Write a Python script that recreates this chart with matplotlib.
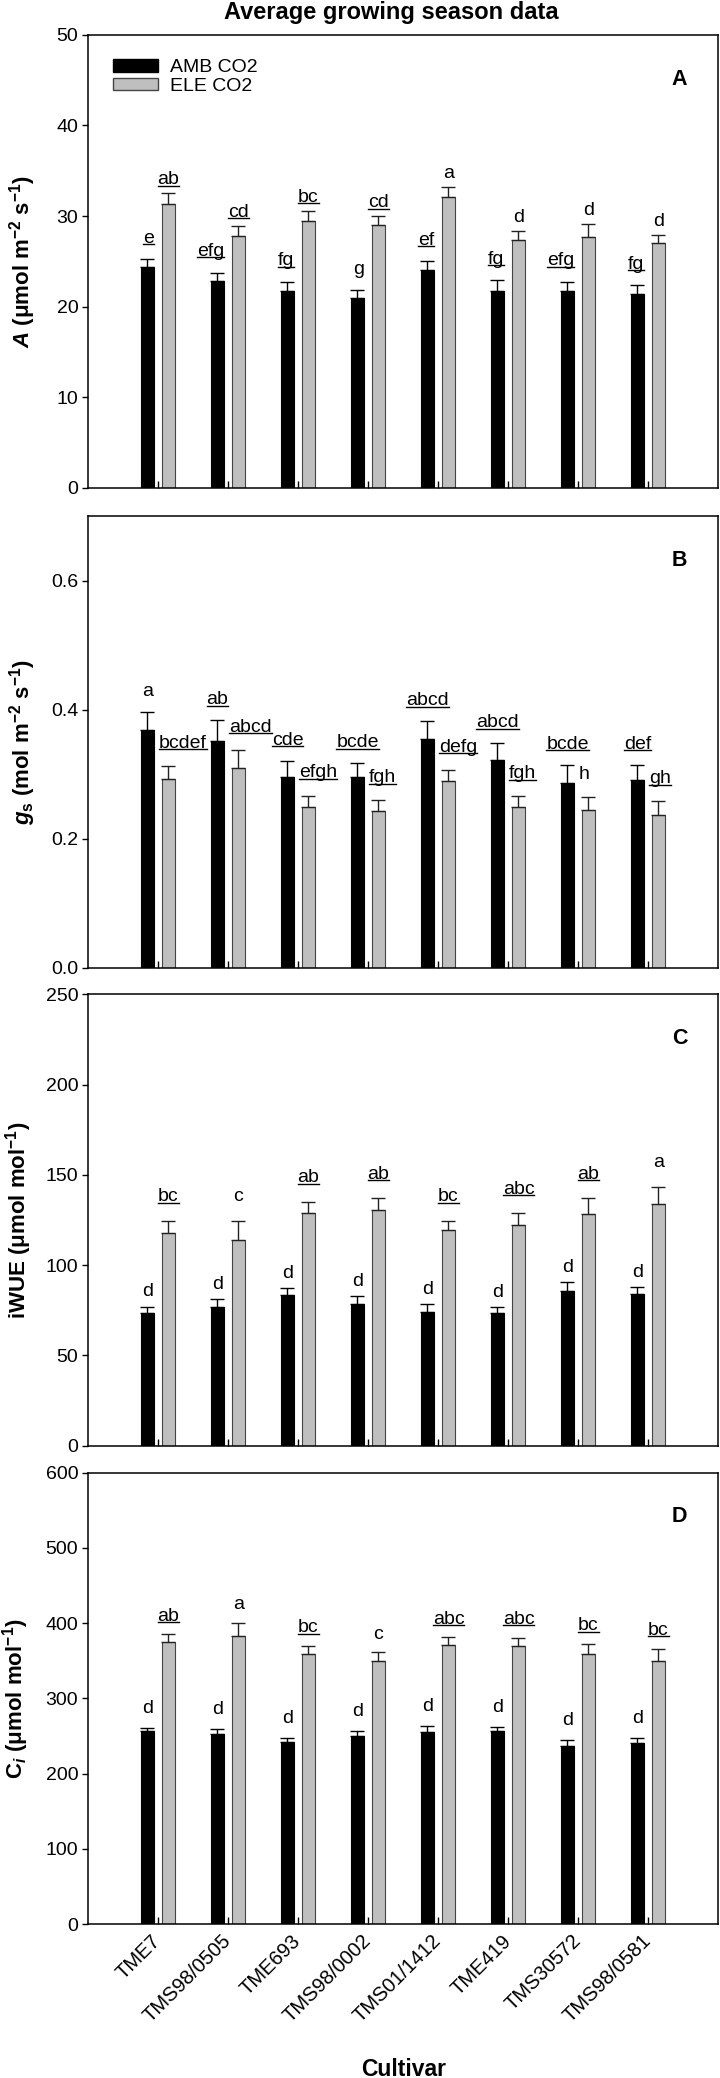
import numpy as np
import matplotlib
matplotlib.use('Agg')
import matplotlib.pyplot as plt
from matplotlib.patches import Patch
from matplotlib.lines import Line2D

plt.rcParams['font.family'] = ['Liberation Sans', 'DejaVu Sans']
plt.rcParams['mathtext.fontset'] = 'custom'
plt.rcParams['mathtext.rm'] = 'Liberation Sans:bold'
plt.rcParams['mathtext.it'] = 'Liberation Sans:bold:italic'
plt.rcParams['mathtext.bf'] = 'Liberation Sans:bold'

cultivars = ['TME7', 'TMS98/0505', 'TME693', 'TMS98/0002',
             'TMS01/1412', 'TME419', 'TMS30572', 'TMS98/0581']

# A - photosynthesis
a_amb = [24.4, 22.8, 21.7, 20.9, 24.0, 21.7, 21.7, 21.4]
a_amb_se = [0.8, 0.95, 1.0, 0.9, 1.0, 1.2, 1.05, 0.95]
a_ele = [31.3, 27.8, 29.4, 29.05, 32.1, 27.3, 27.7, 27.0]
a_ele_se = [1.2, 1.15, 1.2, 0.95, 1.1, 1.0, 1.4, 0.95]
a_amb_let = ['e', 'efg', 'fg', 'g', 'ef', 'fg', 'efg', 'fg']
a_amb_ul = [1, 1, 1, 0, 1, 1, 1, 1]
a_ele_let = ['ab', 'cd', 'bc', 'cd', 'a', 'd', 'd', 'd']
a_ele_ul = [1, 1, 1, 1, 0, 0, 0, 0]

# gs - stomatal conductance
g_amb = [0.369, 0.351, 0.295, 0.295, 0.354, 0.322, 0.286, 0.291]
g_amb_se = [0.027, 0.033, 0.026, 0.022, 0.028, 0.026, 0.029, 0.024]
g_ele = [0.293, 0.309, 0.249, 0.243, 0.290, 0.249, 0.245, 0.237]
g_ele_se = [0.020, 0.029, 0.018, 0.017, 0.017, 0.017, 0.019, 0.021]
g_amb_let = ['a', 'ab', 'cde', 'bcde', 'abcd', 'abcd', 'bcde', 'def']
g_amb_ul = [0, 1, 1, 1, 1, 1, 1, 1]
g_ele_let = ['bcdef', 'abcd', 'efgh', 'fgh', 'defg', 'fgh', 'h', 'gh']
g_ele_ul = [1, 1, 1, 1, 1, 1, 0, 1]

# iWUE
w_amb = [73.7, 76.6, 83.4, 78.5, 73.8, 73.7, 85.8, 83.8]
w_amb_se = [3.3, 4.4, 3.7, 4.4, 4.7, 3.1, 4.8, 4.0]
w_ele = [118.0, 114.0, 128.7, 130.8, 119.2, 122.5, 128.5, 134.1]
w_ele_se = [6.7, 10.7, 6.5, 6.4, 5.5, 6.4, 8.7, 9.4]
w_amb_let = ['d'] * 8
w_amb_ul = [0] * 8
w_ele_let = ['bc', 'c', 'ab', 'ab', 'bc', 'abc', 'ab', 'a']
w_ele_ul = [1, 0, 1, 1, 1, 1, 1, 0]

# Ci
c_amb = [256.3, 252.3, 241.7, 250.6, 255.9, 257.2, 236.8, 240.8]
c_amb_se = [4.9, 7.1, 6.2, 6.6, 7.5, 4.9, 7.5, 7.1]
c_ele = [374.3, 382.7, 358.8, 349.9, 371.2, 369.8, 358.8, 350.3]
c_ele_se = [10.6, 17.3, 10.6, 11.1, 9.7, 10.7, 13.3, 15.6]
c_amb_let = ['d'] * 8
c_amb_ul = [0] * 8
c_ele_let = ['ab', 'a', 'bc', 'c', 'abc', 'abc', 'bc', 'bc']
c_ele_ul = [1, 0, 1, 0, 1, 1, 1, 1]

AMB_C = 'black'
ELE_C = '#bfbfbf'
ELE_EDGE = '#444444'
LET_FS = 14
TICK_FS = 14
W = 0.19
OFF = 0.15

fig = plt.figure(figsize=(7.2, 20.78), dpi=100)

panels = [
    dict(amb=a_amb, amb_se=a_amb_se, ele=a_ele, ele_se=a_ele_se,
         al=a_amb_let, au=a_amb_ul, el=a_ele_let, eu=a_ele_ul,
         ylim=(0, 50), yt=np.arange(0, 51, 10), fmt='%d',
         ylab=r'$\mathit{A}$ (μmol m$^{-2}$ s$^{-1}$)', tag='A',
         rect=[0.1222, 0.7653, 0.875, 0.2179], lx=-0.08,
         aoff=12, eoff=6.5, aha='right', eha='center'),
    dict(amb=g_amb, amb_se=g_amb_se, ele=g_ele, ele_se=g_ele_se,
         al=g_amb_let, au=g_amb_ul, el=g_ele_let, eu=g_ele_ul,
         ylim=(0, 0.7), yt=np.arange(0, 0.61, 0.2), fmt='%.1f',
         ylab=r'$\mathit{g}_\mathrm{s}$ (mol m$^{-2}$ s$^{-1}$)', tag='B',
         rect=[0.1222, 0.5342, 0.875, 0.2175], lx=-0.08,
         aoff=11.5, eoff=13, aha='center', eha='left'),
    dict(amb=w_amb, amb_se=w_amb_se, ele=w_ele, ele_se=w_ele_se,
         al=w_amb_let, au=w_amb_ul, el=w_ele_let, eu=w_ele_ul,
         ylim=(0, 250), yt=np.arange(0, 251, 50), fmt='%d',
         ylab='iWUE (μmol mol$^{-1}$)', tag='C',
         rect=[0.1222, 0.3043, 0.875, 0.2172], lx=-0.085,
         aoff=7.5, eoff=14, aha='center', eha='center'),
    dict(amb=c_amb, amb_se=c_amb_se, ele=c_ele, ele_se=c_ele_se,
         al=c_amb_let, au=c_amb_ul, el=c_ele_let, eu=c_ele_ul,
         ylim=(0, 600), yt=np.arange(0, 601, 100), fmt='%d',
         ylab=r'C$_\mathit{i}$ (μmol mol$^{-1}$)', tag='D',
         rect=[0.1222, 0.0741, 0.875, 0.2172], lx=-0.09,
         aoff=10.8, eoff=10, aha='center', eha='center'),
]

x = np.arange(len(cultivars))
underlined = []


def letters(ax, xs, tops, labs, uls, off, ha):
    for xi, top, lab, ul in zip(xs, tops, labs, uls):
        if ha == 'right':
            px, dx = xi + W / 2, 0
        elif ha == 'left':
            px, dx = xi - W / 2, -2
        else:
            px, dx = xi, 0
        t = ax.annotate(lab, (px, top), xytext=(dx, off), textcoords='offset points',
                        ha=ha, va='baseline', fontsize=LET_FS)
        if ul:
            underlined.append(t)


axes = []
for i, p in enumerate(panels):
    ax = fig.add_axes(p['rect'])
    axes.append(ax)
    amb = np.array(p['amb'])
    ele = np.array(p['ele'])
    ase = np.array(p['amb_se'])
    ese = np.array(p['ele_se'])
    ax.bar(x - OFF, amb, W, color=AMB_C, edgecolor='black', linewidth=0.8, zorder=2)
    ax.bar(x + OFF, ele, W, color=ELE_C, edgecolor=ELE_EDGE, linewidth=0.8, zorder=2)
    # caps are drawn 2*capsize wide, so ~4.7 gives roughly the bar width
    ax.errorbar(x - OFF, amb, yerr=[np.zeros_like(ase), ase], fmt='none',
                ecolor='black', elinewidth=1, capsize=4.7, capthick=1, zorder=3)
    ax.errorbar(x + OFF, ele, yerr=[np.zeros_like(ese), ese], fmt='none',
                ecolor='#222222', elinewidth=1, capsize=4.7, capthick=1, zorder=3)
    letters(ax, x - OFF, amb + ase, p['al'], p['au'], p['aoff'], p['aha'])
    letters(ax, x + OFF, ele + ese, p['el'], p['eu'], p['eoff'], p['eha'])

    ax.set_xlim(-1, 8)
    ax.set_ylim(*p['ylim'])
    ax.set_yticks(p['yt'])
    ax.set_yticklabels([p['fmt'] % v for v in p['yt']])
    ax.set_xticks(x)
    ax.tick_params(axis='x', direction='in', length=5, width=1)
    ax.tick_params(axis='y', direction='out', length=4, width=1, labelsize=TICK_FS, pad=3)
    for s in ax.spines.values():
        s.set_linewidth(1.1)
    ax.set_ylabel(p['ylab'], fontsize=16, fontweight='bold')
    ax.yaxis.set_label_coords(p['lx'], 0.5)
    ax.text(0.939, 0.902, p['tag'], transform=ax.transAxes, fontsize=15.5,
            fontweight='bold', ha='center', va='center')
    if i < 3:
        ax.set_xticklabels([])
    else:
        ax.set_xticklabels(cultivars, rotation=45, ha='right', va='center',
                           rotation_mode='anchor', fontsize=14.5)
        ax.tick_params(axis='x', pad=10)

handles = [Patch(facecolor=AMB_C, edgecolor='black', label='AMB CO2'),
           Patch(facecolor=ELE_C, edgecolor=ELE_EDGE, label='ELE CO2')]
axes[0].legend(handles=handles, loc='upper left', bbox_to_anchor=(0.0397, 0.946),
               frameon=False, fontsize=14, handlelength=2.3, handleheight=0.6,
               handletextpad=0.62, labelspacing=0.08, borderaxespad=0, borderpad=0)

fig.text(0.543, 1 - 18.5 / 2078, 'Average growing season data', ha='center',
         va='baseline', fontsize=17, fontweight='bold')
fig.text(0.561, 1 - 2076 / 2078, 'Cultivar', ha='center', va='baseline',
         fontsize=16.5, fontweight='bold')

# draw the underlines beneath the grouping letters
fig.canvas.draw()
r = fig.canvas.get_renderer()
inv = fig.transFigure.inverted()
for t in underlined:
    bb = t.get_window_extent(r)
    y = bb.y0 + 2.5
    (x0, yy), (x1, _) = inv.transform([(bb.x0, y), (bb.x1, y)])
    fig.add_artist(Line2D([x0, x1], [yy, yy], transform=fig.transFigure,
                          color='black', linewidth=1))

fig.savefig('out.png', dpi=100)
